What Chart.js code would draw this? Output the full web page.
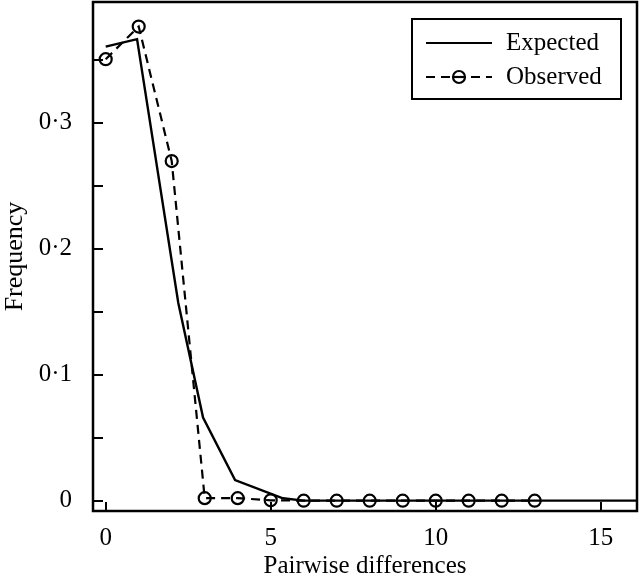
<!DOCTYPE html>
<html>
<head>
<meta charset="utf-8">
<script src="https://cdn.jsdelivr.net/npm/chart.js@4.4.0/dist/chart.umd.min.js"></script>
<style>
  body { margin: 0; background: #fff; }
  canvas { display: block; }
</style>
</head>
<body>
<canvas id="myChart" width="640" height="578"></canvas>
<script>
// Data
const expectedX = [0, 0.95, 2.2, 2.95, 3.92, 5.37, 6, 17];
const expectedY = [0.3606, 0.3665, 0.157, 0.066, 0.0164, 0.0019, 0, 0];
const observedX = [0, 1, 2, 3, 4, 5, 6, 7, 8, 9, 10, 11, 12, 13];
const observedY = [0.3506, 0.3765, 0.2697, 0.002, 0.002, 0.0003, 0, 0, 0, 0, 0, 0, 0, 0];
const seriesNames = ['Expected', 'Observed'];
const xTicks = [0, 5, 10, 15];

const serif = "'Liberation Serif', 'Times New Roman', serif";

function toPoints(xs, ys) {
    return xs.map((x, i) => ({ x: x, y: ys[i] }));
}

// no extra room around the plot for overhanging labels
function noPadding(s) {
    s.paddingTop = 0;
    s.paddingBottom = 0;
    s.paddingLeft = 0;
    s.paddingRight = 0;
}

// frame, inward ticks and the boxed legend
const framePlugin = {
    id: 'frame',
    afterDraw(chart) {
        const ctx = chart.ctx;
        const a = chart.chartArea;
        const xs = chart.scales.x;
        const ys = chart.scales.y;
        ctx.save();
        ctx.strokeStyle = '#000';
        ctx.lineWidth = 2.5;
        ctx.strokeRect(a.left, a.top, a.right - a.left, a.bottom - a.top);

        ctx.lineWidth = 2;
        ctx.beginPath();
        ys.ticks.forEach(t => {
            const y = Math.round(ys.getPixelForValue(t.value));
            ctx.moveTo(a.left, y);
            ctx.lineTo(a.left + 10, y);
        });
        xs.ticks.forEach(t => {
            const x = Math.round(xs.getPixelForValue(t.value));
            ctx.moveTo(x, a.bottom);
            ctx.lineTo(x, a.bottom - 9);
        });
        ctx.stroke();

        // legend
        const lx = 412, ly = 19, lw = 209, lh = 80;
        ctx.lineWidth = 2;
        ctx.strokeRect(lx, ly, lw, lh);
        ctx.font = '25px ' + serif;
        ctx.fillStyle = '#000';
        ctx.textBaseline = 'middle';
        ctx.textAlign = 'left';
        const rows = [43, 77];
        chart.data.datasets.forEach((ds, i) => {
            const y = rows[i];
            ctx.lineWidth = 2.2;
            ctx.setLineDash(ds.borderDash || []);
            ctx.beginPath();
            ctx.moveTo(426, y);
            ctx.lineTo(492, y);
            ctx.stroke();
            ctx.setLineDash([]);
            if (ds.pointRadius > 0) {
                ctx.beginPath();
                ctx.arc(459, y, ds.pointRadius, 0, Math.PI * 2);
                ctx.fillStyle = '#fff';
                ctx.fill();
                ctx.stroke();
                ctx.beginPath();
                ctx.moveTo(453, y);
                ctx.lineTo(465, y);
                ctx.stroke();
            }
            ctx.fillStyle = '#000';
            ctx.fillText(ds.label, 506, y);
        });
        ctx.restore();
    }
};

const ctx = document.getElementById('myChart').getContext('2d');
const myChart = new Chart(ctx, {
    type: 'line',
    data: {
        datasets: [{
            label: seriesNames[0],
            data: toPoints(expectedX, expectedY),
            borderColor: '#000',
            borderWidth: 2.4,
            pointRadius: 0,
            fill: false,
            tension: 0
        }, {
            label: seriesNames[1],
            data: toPoints(observedX, observedY),
            borderColor: '#000',
            borderWidth: 2.2,
            borderDash: [9, 6],
            pointRadius: 6,
            pointBorderWidth: 2.2,
            pointBorderColor: '#000',
            pointBackgroundColor: 'rgba(0,0,0,0)',
            fill: false,
            tension: 0
        }]
    },
    options: {
        responsive: false,
        animation: false,
        layout: { autoPadding: false, padding: { top: 2, right: 3, left: 0, bottom: 0 } },
        plugins: {
            legend: { display: false },
            tooltip: { enabled: false }
        },
        scales: {
            x: {
                type: 'linear',
                min: -0.385,
                max: 16.1,
                grid: { display: false, drawTicks: false },
                border: { display: false },
                afterBuildTicks: s => { s.ticks = xTicks.map(v => ({ value: v })); },
                ticks: {
                    color: '#000',
                    padding: 12,
                    font: { family: serif, size: 25 }
                },
                title: {
                    display: true,
                    text: 'Pairwise differences',
                    color: '#000',
                    padding: { top: 0, bottom: -3 },
                    font: { family: serif, size: 25 }
                },
                afterFit: s => { s.height = 67; noPadding(s); }
            },
            y: {
                type: 'linear',
                min: -0.0082,
                max: 0.396,
                grid: { display: false, drawTicks: false },
                border: { display: false },
                ticks: {
                    stepSize: 0.05,
                    includeBounds: false,
                    color: '#000',
                    padding: 21,
                    font: { family: serif, size: 25 },
                    callback: v => {
                        const n = Math.round(v * 100);
                        if (n % 10 !== 0) return '';
                        if (n === 0) return '0';
                        return (n / 100).toFixed(1).replace('.', '\u00b7');
                    }
                },
                title: {
                    display: true,
                    text: 'Frequency',
                    color: '#000',
                    padding: { top: 0, bottom: 0 },
                    font: { family: serif, size: 26 }
                },
                afterFit: s => { s.width = 93; noPadding(s); }
            }
        }
    },
    plugins: [framePlugin]
});
</script>
</body>
</html>
